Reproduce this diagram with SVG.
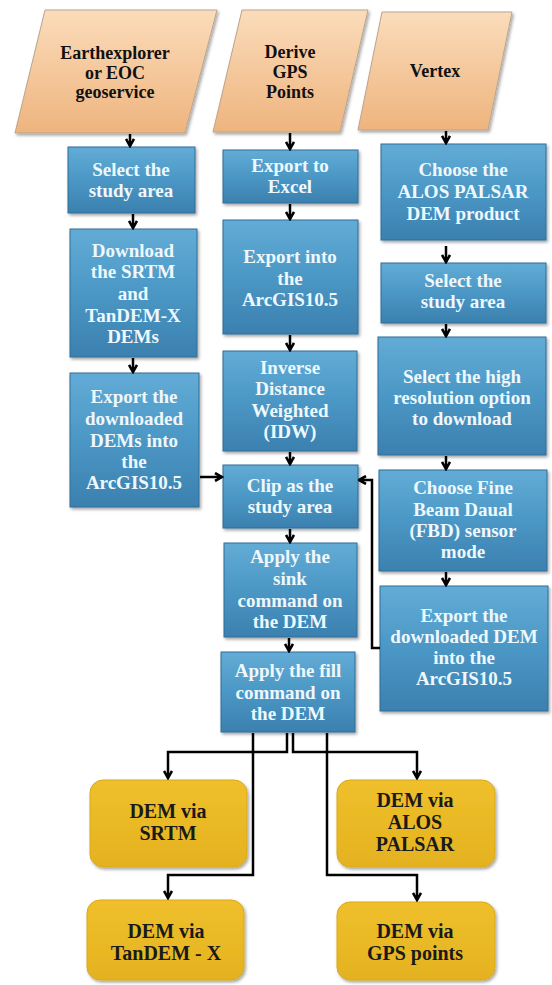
<svg xmlns="http://www.w3.org/2000/svg" width="552" height="985" viewBox="0 0 552 985">
<defs>
<linearGradient id="gPeach" x1="0" y1="0" x2="0" y2="1">
<stop offset="0" stop-color="#fbdcbb"/>
<stop offset="1" stop-color="#eeb47e"/>
</linearGradient>
<linearGradient id="gBlue" x1="0" y1="0" x2="0" y2="1">
<stop offset="0" stop-color="#62acd6"/>
<stop offset="0.5" stop-color="#4b97c5"/>
<stop offset="1" stop-color="#3b80af"/>
</linearGradient>
<linearGradient id="gGold" x1="0" y1="0" x2="0" y2="1">
<stop offset="0" stop-color="#efc02c"/>
<stop offset="1" stop-color="#e4b21f"/>
</linearGradient>
<filter id="sh" x="-10%" y="-10%" width="125%" height="125%">
<feDropShadow dx="1.5" dy="2" stdDeviation="1.5" flood-color="#000" flood-opacity="0.35"/>
</filter>
<marker id="ah" viewBox="0 0 10 10" refX="8.5" refY="5" markerWidth="10" markerHeight="10" markerUnits="userSpaceOnUse" orient="auto">
<path d="M1.5,1 L8.5,5 L1.5,9" fill="none" stroke="#000" stroke-width="2.6"/>
</marker>
</defs>
<style>
.para{fill:url(#gPeach);stroke:#b9a48f;stroke-width:1;filter:url(#sh)}
.blue{fill:url(#gBlue);stroke:#2e6d98;stroke-width:1;filter:url(#sh)}
.gold{fill:url(#gGold);stroke:#d9a91c;stroke-width:1;filter:url(#sh)}
.tp{font-family:"Liberation Serif","Times New Roman",serif;font-weight:bold;font-size:18px;fill:#111;text-anchor:middle}
.tb{font-family:"Liberation Serif","Times New Roman",serif;font-weight:bold;font-size:19px;fill:#eef8fc;text-anchor:middle}
.tg{font-family:"Liberation Serif","Times New Roman",serif;font-weight:bold;font-size:20px;fill:#1a1a1a;text-anchor:middle}
.c{fill:none;stroke:#000;stroke-width:2.5}
</style>
<rect width="552" height="985" fill="#fff"/>

<g id="p1"><polygon class="para" points="45,10 217,10 185,133 15,133"/>
<text class="tp" x="115" y="59">Earthexplorer</text><text class="tp" x="115" y="79">or EOC</text><text class="tp" x="115" y="98">geoservice</text></g>
<g id="p2"><polygon class="para" points="242,10 368,10 340,132 213,132"/>
<text class="tp" x="290" y="58">Derive</text><text class="tp" x="290" y="78">GPS</text><text class="tp" x="290" y="98">Points</text></g>
<g id="p3"><polygon class="para" points="382,12 512,12 488,130 358,130"/>
<text class="tp" x="435" y="77">Vertex</text></g>

<g id="l1"><rect class="blue" x="68" y="147" width="127" height="66"/>
<text class="tb" x="131" y="176">Select the</text><text class="tb" x="131" y="197">study area</text></g>
<g id="l2"><rect class="blue" x="70" y="229" width="127" height="128"/>
<text class="tb" x="133" y="257">Download</text><text class="tb" x="133" y="278">the SRTM</text><text class="tb" x="133" y="300">and</text><text class="tb" x="133" y="322">TanDEM-X</text><text class="tb" x="133" y="343">DEMs</text></g>
<g id="l3"><rect class="blue" x="70" y="373" width="129" height="134"/>
<text class="tb" x="134" y="403">Export the</text><text class="tb" x="134" y="425">downloaded</text><text class="tb" x="134" y="447">DEMs into</text><text class="tb" x="134" y="468">the</text><text class="tb" x="134" y="489">ArcGIS10.5</text></g>

<g id="m1"><rect class="blue" x="223" y="150" width="135" height="53"/>
<text class="tb" x="290" y="172">Export to</text><text class="tb" x="290" y="193">Excel</text></g>
<g id="m2"><rect class="blue" x="223" y="220" width="135" height="114"/>
<text class="tb" x="290" y="263">Export into</text><text class="tb" x="290" y="285">the</text><text class="tb" x="290" y="306">ArcGIS10.5</text></g>
<g id="m3"><rect class="blue" x="223" y="351" width="134" height="100"/>
<text class="tb" x="290" y="374">Inverse</text><text class="tb" x="290" y="395">Distance</text><text class="tb" x="290" y="417">Weighted</text><text class="tb" x="290" y="438">(IDW)</text></g>
<g id="m4"><rect class="blue" x="223" y="465" width="135" height="63"/>
<text class="tb" x="290" y="492">Clip as the</text><text class="tb" x="290" y="513">study area</text></g>
<g id="m5"><rect class="blue" x="224" y="543" width="133" height="94"/>
<text class="tb" x="290" y="563">Apply the</text><text class="tb" x="290" y="585">sink</text><text class="tb" x="290" y="607">command on</text><text class="tb" x="290" y="628">the DEM</text></g>
<g id="m6"><rect class="blue" x="221" y="652" width="134" height="80"/>
<text class="tb" x="288" y="677">Apply the fill</text><text class="tb" x="288" y="699">command on</text><text class="tb" x="288" y="720">the DEM</text></g>

<g id="r1"><rect class="blue" x="381" y="144" width="165" height="96"/>
<text class="tb" x="463" y="176">Choose the</text><text class="tb" x="463" y="198">ALOS PALSAR</text><text class="tb" x="463" y="220">DEM product</text></g>
<g id="r2"><rect class="blue" x="381" y="263" width="165" height="60"/>
<text class="tb" x="463" y="287">Select the</text><text class="tb" x="463" y="308">study area</text></g>
<g id="r3"><rect class="blue" x="378" y="337" width="168" height="118"/>
<text class="tb" x="462" y="383">Select the high</text><text class="tb" x="462" y="404">resolution option</text><text class="tb" x="462" y="425">to download</text></g>
<g id="r4"><rect class="blue" x="379" y="470" width="168" height="101"/>
<text class="tb" x="463" y="494">Choose Fine</text><text class="tb" x="463" y="516">Beam Daual</text><text class="tb" x="463" y="537">(FBD) sensor</text><text class="tb" x="463" y="558">mode</text></g>
<g id="r5"><rect class="blue" x="380" y="586" width="168" height="125"/>
<text class="tb" x="464" y="622">Export the</text><text class="tb" x="464" y="643">downloaded DEM</text><text class="tb" x="464" y="664">into the</text><text class="tb" x="464" y="685">ArcGIS10.5</text></g>

<g id="y1"><rect class="gold" x="90" y="780" width="157" height="87" rx="13"/>
<text class="tg" x="168" y="818">DEM via</text><text class="tg" x="168" y="840">SRTM</text></g>
<g id="y2"><rect class="gold" x="337" y="780" width="158" height="87" rx="13"/>
<text class="tg" x="415" y="807">DEM via</text><text class="tg" x="415" y="829">ALOS</text><text class="tg" x="415" y="851">PALSAR</text></g>
<g id="y3"><rect class="gold" x="87" y="900" width="157" height="80" rx="13"/>
<text class="tg" x="166" y="938">DEM via</text><text class="tg" x="166" y="960">TanDEM - X</text></g>
<g id="y4"><rect class="gold" x="337" y="902" width="158" height="78" rx="13"/>
<text class="tg" x="415" y="938">DEM via</text><text class="tg" x="415" y="960">GPS points</text></g>

<g id="connectors">
<path class="c" d="M130,134 V146" marker-end="url(#ah)"/>
<path class="c" d="M133,214 V228" marker-end="url(#ah)"/>
<path class="c" d="M133,358 V372" marker-end="url(#ah)"/>
<path class="c" d="M200,477 H222" marker-end="url(#ah)"/>
<path class="c" d="M290,133 V149" marker-end="url(#ah)"/>
<path class="c" d="M290,204 V219" marker-end="url(#ah)"/>
<path class="c" d="M290,335 V350" marker-end="url(#ah)"/>
<path class="c" d="M290,452 V464" marker-end="url(#ah)"/>
<path class="c" d="M290,529 V542" marker-end="url(#ah)"/>
<path class="c" d="M289,638 V651" marker-end="url(#ah)"/>
<path class="c" d="M446,131 V143" marker-end="url(#ah)"/>
<path class="c" d="M446,246 V262" marker-end="url(#ah)"/>
<path class="c" d="M446,324 V336" marker-end="url(#ah)"/>
<path class="c" d="M446,456 V469" marker-end="url(#ah)"/>
<path class="c" d="M446,572 V585" marker-end="url(#ah)"/>
<path class="c" d="M380,648 H372 V480 H359" marker-end="url(#ah)"/>
<path class="c" d="M287,733 V752 H168 V778" marker-end="url(#ah)"/>
<path class="c" d="M293,733 V752 H417 V778" marker-end="url(#ah)"/>
<path class="c" d="M253,733 V875 H168 V898" marker-end="url(#ah)"/>
<path class="c" d="M327,733 V875 H417 V900" marker-end="url(#ah)"/>
</g>
</svg>
